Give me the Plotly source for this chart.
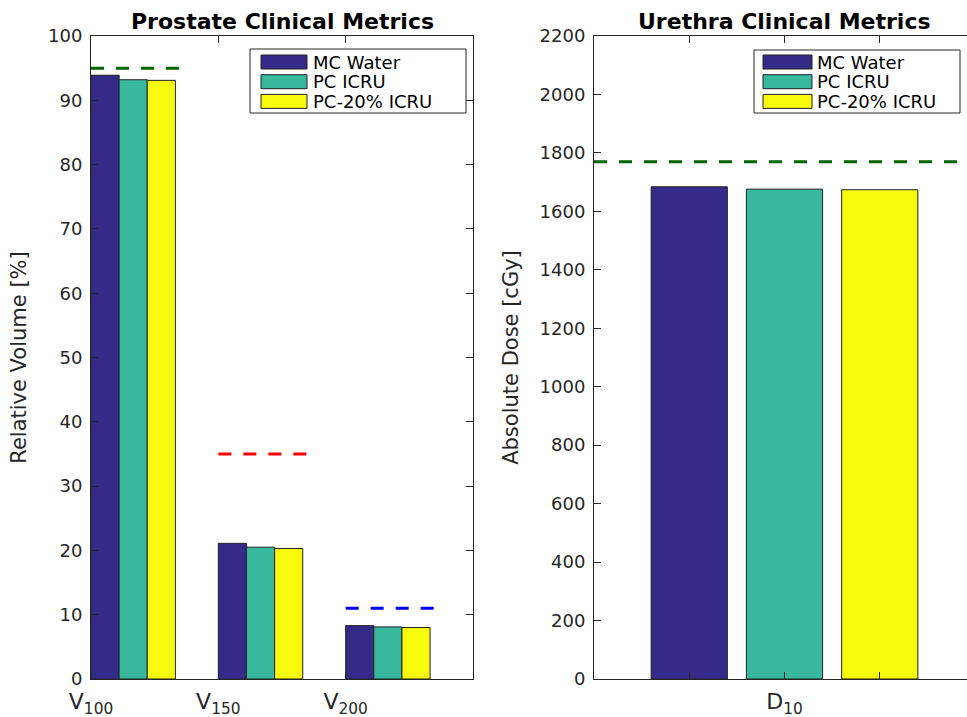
import plotly.graph_objects as go

# ---- data ----
series_names = ["MC Water", "PC ICRU", "PC-20% ICRU"]
series_colors = ["#352a87", "#38b89d", "#f8fa0d"]

prostate_metrics = ["V<sub>100</sub>", "V<sub>150</sub>", "V<sub>200</sub>"]
prostate_values = {
    "MC Water": [93.9, 21.1, 8.3],
    "PC ICRU": [93.2, 20.5, 8.1],
    "PC-20% ICRU": [93.1, 20.3, 8.0],
}
prostate_limits = [95, 35, 11]
prostate_limit_colors = ["#006400", "#ff0000", "#0000ff"]

urethra_metrics = ["D<sub>10</sub>"]
urethra_values = {
    "MC Water": [1684],
    "PC ICRU": [1676],
    "PC-20% ICRU": [1674],
}
urethra_limit = 1770
urethra_limit_color = "#006400"

W, H = 967, 717
FONT = "DejaVu Sans"
AX = "#262626"

fig = go.Figure()

# ---- prostate bars: groups start at integer positions ----
bw_p = 0.221
px = [1, 2, 3]
for i, name in enumerate(series_names):
    fig.add_trace(go.Bar(
        x=px, y=prostate_values[name], width=bw_p, offset=i * bw_p,
        marker=dict(color=series_colors[i], line=dict(color="#222222", width=1)),
        name=name, showlegend=False, xaxis="x", yaxis="y",
    ))

# prostate dashed limits over each group
for k, lim in enumerate(prostate_limits):
    fig.add_trace(go.Scatter(
        x=[px[k], px[k] + 0.70], y=[lim, lim], mode="lines",
        line=dict(color=prostate_limit_colors[k], width=3, dash="13px,12px"),
        showlegend=False, hoverinfo="skip", xaxis="x", yaxis="y",
    ))

# ---- urethra bars ----
bw_u = 0.2
u_offsets = [-0.35, -0.10, 0.15]
for i, name in enumerate(series_names):
    fig.add_trace(go.Bar(
        x=[1], y=urethra_values[name], width=bw_u, offset=u_offsets[i],
        marker=dict(color=series_colors[i], line=dict(color="#222222", width=1)),
        name=name, showlegend=False, xaxis="x2", yaxis="y2",
    ))

fig.add_trace(go.Scatter(
    x=[0.5, 1.5], y=[urethra_limit, urethra_limit], mode="lines",
    line=dict(color=urethra_limit_color, width=3, dash="13px,12px"),
    showlegend=False, hoverinfo="skip", xaxis="x2", yaxis="y2",
))

y_dom = [1 - 679 / H, 1 - 36 / H]
line_style = dict(
    showline=True, linecolor=AX, linewidth=1, ticks="inside", ticklen=7,
    tickcolor=AX, tickwidth=1, showgrid=False, zeroline=False, automargin=False,
)
y_tickfont = dict(family=FONT, size=18, color=AX)
x_tickfont = dict(family=FONT, size=22, color=AX)
title_font = dict(family=FONT, size=21, color=AX)

fig.update_layout(
    width=W, height=H,
    margin=dict(l=0, r=0, t=0, b=0, autoexpand=False),
    paper_bgcolor="white", plot_bgcolor="white",
    barmode="overlay",
    xaxis=dict(domain=[91 / W, 473 / W], range=[1, 4], tickvals=[1, 2, 3, 4],
               ticktext=prostate_metrics + [""], mirror="ticks", anchor="y",
               ticklabelstandoff=3, tickfont=x_tickfont, **line_style),
    yaxis=dict(domain=y_dom, range=[0, 100], tickvals=list(range(0, 101, 10)),
               mirror="ticks", anchor="x", ticklabelstandoff=4,
               title=dict(text="Relative Volume [%]", font=title_font),
               tickfont=y_tickfont, **line_style),
    xaxis2=dict(domain=[594 / W, 1.0], range=[0.5, 1.479],
                tickvals=[0.75, 1, 1.25], ticktext=["", urethra_metrics[0], ""],
                mirror="ticks", anchor="y2", ticklabelstandoff=3,
                tickfont=x_tickfont, **line_style),
    yaxis2=dict(domain=y_dom, range=[0, 2200], tickvals=list(range(0, 2201, 200)),
                anchor="x2", mirror=False, ticklabelstandoff=4,
                title=dict(text="Absolute Dose [cGy]", font=title_font),
                tickfont=y_tickfont, **line_style),
)

# ---- panel titles ----
fig.add_annotation(text="<b>Prostate Clinical Metrics</b>", xref="x domain", yref="paper",
                   x=0.5, y=1 - 21 / H, showarrow=False, yanchor="middle",
                   font=dict(family=FONT, size=22, color="black"))
fig.add_annotation(text="<b>Urethra Clinical Metrics</b>", xref="x2", yref="paper",
                   x=1, y=1 - 21 / H, showarrow=False, yanchor="middle",
                   font=dict(family=FONT, size=22, color="black"))


# ---- boxed legends with wide colour patches ----
def px2paper(xp, yp):
    return xp / W, 1 - yp / H


def draw_legend(box, patch_x, text_x, row_top):
    x0, y0 = px2paper(box[0], box[1])
    x1, y1 = px2paper(box[2], box[3])
    fig.add_shape(type="rect", xref="paper", yref="paper", x0=x0, y0=y0, x1=x1, y1=y1,
                  line=dict(color="#262626", width=1), fillcolor="white", layer="above")
    for i, name in enumerate(series_names):
        top = row_top + i * 19.7
        a0, b0 = px2paper(patch_x[0], top)
        a1, b1 = px2paper(patch_x[1], top + 14)
        fig.add_shape(type="rect", xref="paper", yref="paper", x0=a0, y0=b0, x1=a1, y1=b1,
                      line=dict(color="#222222", width=1), fillcolor=series_colors[i],
                      layer="above")
        tx, ty = px2paper(text_x, top + 7)
        fig.add_annotation(text=name, xref="paper", yref="paper", x=tx, y=ty,
                           xanchor="left", yanchor="middle", showarrow=False,
                           font=dict(family=FONT, size=18, color="black"))


draw_legend((250, 49, 466, 113), (261, 307), 311, 55)
draw_legend((754, 50, 960, 113), (763, 812), 815, 55)

fig.write_html("out.html")
